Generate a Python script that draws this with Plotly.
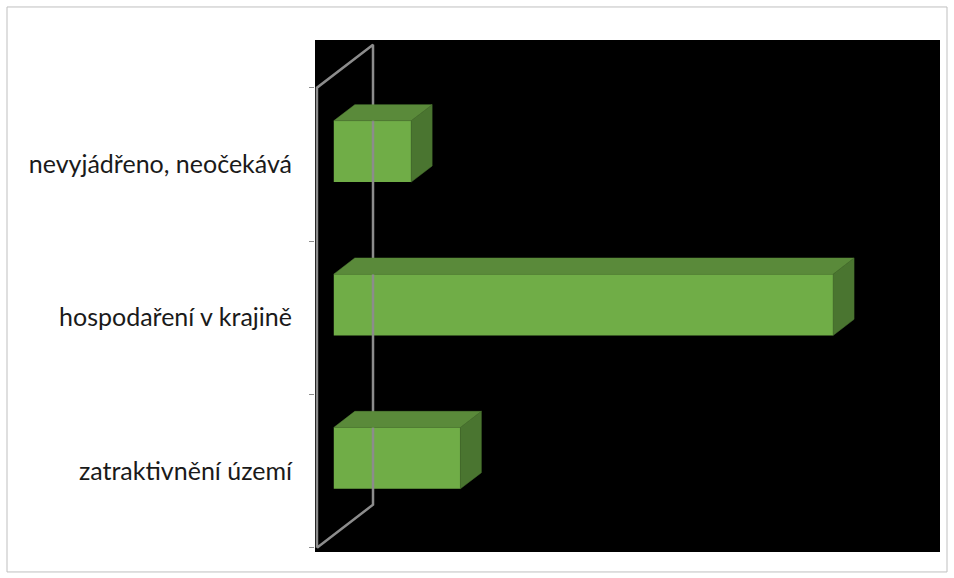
import plotly.graph_objects as go

# ---- data ----
categories = ["zatraktivnění území", "hospodaření v krajině", "nevyjádřeno, neočekává"]
values = [18, 71, 11]

# ---- pseudo-3D projection settings ----
DX = 7.97     # x shift (value units) per unit depth
DY = 0.2805   # y shift (category units) per unit depth
D0, D1 = 0.3, 0.675  # bar front / back depth
H = 0.2       # half bar thickness

FRONT = "#70AD47"
TOP = "#5A8A3A"
SIDE = "#4A7530"
AXIS = "#8C8C8C"


def proj(v, c, d):
    return v + d * DX, c + d * DY


fig = go.Figure()

# wireframe of category axis (front line, back line, connecting diagonals)
n = len(categories)
lo, hi = -0.5, n - 0.5
pts = [proj(0, lo, 0), proj(0, hi, 0), proj(0, hi, 1), proj(0, lo, 1), proj(0, lo, 0)]
fig.add_trace(go.Scatter(x=[p[0] for p in pts], y=[p[1] for p in pts], mode="lines",
                         line=dict(color=AXIS, width=2.5), hoverinfo="skip", showlegend=False))

for i, (cat, val) in enumerate(zip(categories, values)):
    # top face
    tp = [proj(0, i + H, D0), proj(val, i + H, D0), proj(val, i + H, D1), proj(0, i + H, D1), proj(0, i + H, D0)]
    fig.add_trace(go.Scatter(x=[p[0] for p in tp], y=[p[1] for p in tp], mode="lines", fill="toself",
                             fillcolor=TOP, line=dict(color=TOP, width=0.5), hoverinfo="skip", showlegend=False))
    # side face
    sp = [proj(val, i - H, D0), proj(val, i + H, D0), proj(val, i + H, D1), proj(val, i - H, D1), proj(val, i - H, D0)]
    fig.add_trace(go.Scatter(x=[p[0] for p in sp], y=[p[1] for p in sp], mode="lines", fill="toself",
                             fillcolor=SIDE, line=dict(color=SIDE, width=0.5), hoverinfo="skip", showlegend=False))
    # front face
    bx, by = proj(0, i, D0)
    fig.add_trace(go.Bar(x=[val], y=[by], base=[bx], orientation="h", width=2 * H,
                         marker=dict(color=FRONT, line=dict(width=0)), name=cat, showlegend=False))

# dummy trace to show yaxis2 labels
fig.add_trace(go.Scatter(x=[None], y=[None], yaxis="y2", showlegend=False, hoverinfo="skip"))

fig.update_layout(
    width=954, height=578,
    margin=dict(l=315, r=14, t=40, b=26),
    paper_bgcolor="white", plot_bgcolor="black",
    showlegend=False,
    xaxis=dict(range=[-0.28, 88.6], showgrid=False, zeroline=False, showticklabels=False, ticks=""),
    yaxis=dict(range=[-0.528, 2.811], showgrid=False, zeroline=False,
               tickvals=[k - 0.5 for k in range(n + 1)], ticks="outside", ticklen=5,
               tickcolor=AXIS, tickwidth=1, showticklabels=False),
    yaxis2=dict(range=[-0.528, 2.811], overlaying="y", side="left", showgrid=False, zeroline=False,
                tickvals=list(range(n)), ticktext=categories, ticks="outside", ticklen=17,
                tickcolor="rgba(0,0,0,0)",
                tickfont=dict(family="Lato", size=25, color="#1a1a1a")),
    shapes=[dict(type="rect", xref="paper", yref="paper",
                 x0=-0.4928, x1=1.0112, y0=-0.039, y1=1.0645,
                 line=dict(color="#BFBFBF", width=1), fillcolor="rgba(0,0,0,0)", layer="below")],
)

fig.write_html("out.html", config={"displayModeBar": False},
               post_script="document.body.style.margin='0px';")
